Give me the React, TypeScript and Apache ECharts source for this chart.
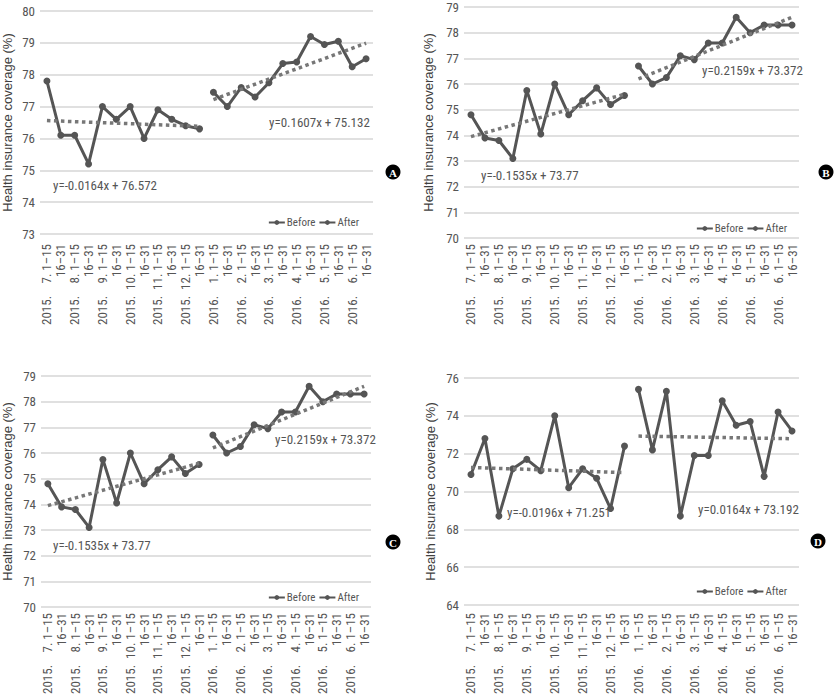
import React, { useEffect, useRef } from "react";
import * as echarts from "echarts";

// ---- data ----
const years = [2015, 2015, 2015, 2015, 2015, 2015, 2016, 2016, 2016, 2016, 2016, 2016];
const months = [7, 8, 9, 10, 11, 12, 1, 2, 3, 4, 5, 6];
const halves = ["1\u201315", "16\u201331"];
const categories: string[] = [];
months.forEach((m, i) => halves.forEach((h) => categories.push(`${years[i]}|${m}|${h}`)));

const beforeA = [77.8, 76.1, 76.1, 75.2, 77.0, 76.6, 77.0, 76.0, 76.9, 76.6, 76.4, 76.3];
const afterA = [77.45, 77.0, 77.6, 77.3, 77.75, 78.35, 78.4, 79.2, 78.95, 79.05, 78.25, 78.5];
const trendBeforeA = [76.56, 76.38];
const trendAfterA = [77.22, 78.99];

const beforeB = [74.8, 73.9, 73.8, 73.1, 75.75, 74.05, 76.0, 74.8, 75.35, 75.85, 75.2, 75.55];
const afterB = [76.7, 76.0, 76.25, 77.1, 76.95, 77.6, 77.6, 78.6, 78.0, 78.3, 78.3, 78.3];
const trendBeforeB = [73.95, 75.6];
const trendAfterB = [76.2, 78.6];

const beforeC = [74.8, 73.9, 73.8, 73.1, 75.75, 74.05, 76.0, 74.8, 75.35, 75.85, 75.2, 75.55];
const afterC = [76.7, 76.0, 76.25, 77.1, 76.95, 77.6, 77.6, 78.6, 78.0, 78.3, 78.3, 78.3];
const trendBeforeC = [73.95, 75.6];
const trendAfterC = [76.2, 78.6];

const beforeD = [70.9, 72.8, 68.7, 71.2, 71.7, 71.1, 74.0, 70.2, 71.2, 70.7, 69.1, 72.4];
const afterD = [75.4, 72.2, 75.3, 68.7, 71.9, 71.9, 74.8, 73.5, 73.7, 70.8, 74.2, 73.2];
const trendBeforeD = [71.27, 71.0];
const trendAfterD = [72.93, 72.79];

const equationsA = ["y=-0.0164x + 76.572", "y=0.1607x + 75.132"];
const equationsB = ["y=-0.1535x + 73.77", "y=0.2159x + 73.372"];
const equationsC = ["y=-0.1535x + 73.77", "y=0.2159x + 73.372"];
const equationsD = ["y=-0.0196x + 71.251", "y=0.0164x + 73.192"];

const seriesNames = ["Before", "After"];
const yTitle = "Health insurance coverage (%)";

// ---- layout ----
const NARROW = "'Liberation Sans Narrow', 'Arial Narrow', 'Roboto Condensed', sans-serif";
const SANS = "'Liberation Sans', Arial, sans-serif";
const LINE = "#555555";
const TEXT = "#555555";

const panels = [
  {
    letter: "A", before: beforeA, after: afterA, tb: trendBeforeA, ta: trendAfterA, eq: equationsA,
    yMin: 73, yMax: 80, yStep: 1,
    grid: { left: 37, top: 11, width: 336, height: 223 }, nameGap: 26, labelMargin: 10,
    legend: { right: 476, top: 212 },
    eqPos: [[53, 185], [269, 122]], badge: [393, 172],
  },
  {
    letter: "B", before: beforeB, after: afterB, tb: trendBeforeB, ta: trendAfterB, eq: equationsB,
    yMin: 70, yMax: 79, yStep: 1,
    grid: { left: 464, top: 7, width: 335, height: 231 }, nameGap: 29, labelMargin: 6,
    legend: { right: 48, top: 218 },
    eqPos: [[481, 175], [702, 70]], badge: [826, 172],
  },
  {
    letter: "C", before: beforeC, after: afterC, tb: trendBeforeC, ta: trendAfterC, eq: equationsC,
    yMin: 70, yMax: 79, yStep: 1,
    grid: { left: 38, top: 376, width: 333, height: 231 }, nameGap: 27, labelMargin: 6,
    legend: { right: 476, top: 587 },
    eqPos: [[53, 545], [275, 439]], badge: [393, 542],
  },
  {
    letter: "D", before: beforeD, after: afterD, tb: trendBeforeD, ta: trendAfterD, eq: equationsD,
    yMin: 64, yMax: 76, yStep: 2,
    grid: { left: 464, top: 378, width: 335, height: 227 }, nameGap: 27, labelMargin: 8,
    legend: { right: 48, top: 581 },
    eqPos: [[507, 512], [698, 509]], badge: [818, 541],
  },
];

function formatCategory(v: string) {
  const [y, m, h] = v.split("|");
  if (h === halves[1]) return h;
  return `${y}.  ${m.length < 2 ? "\u2007" : ""}${m}. ${h}`;
}

function buildOption() {
  const grid: any[] = [];
  const xAxis: any[] = [];
  const yAxis: any[] = [];
  const series: any[] = [];
  const legend: any[] = [];
  const graphic: any[] = [];

  panels.forEach((p, i) => {
    grid.push({ ...p.grid, containLabel: false });
    xAxis.push({
      type: "category",
      gridIndex: i,
      data: categories,
      boundaryGap: true,
      axisLine: { show: false },
      axisTick: { show: false },
      axisLabel: {
        interval: 0,
        rotate: 90,
        margin: p.labelMargin,
        fontSize: 13,
        fontFamily: NARROW,
        color: TEXT,
        formatter: formatCategory,
      },
    });
    yAxis.push({
      type: "value",
      gridIndex: i,
      min: p.yMin,
      max: p.yMax,
      interval: p.yStep,
      name: yTitle,
      nameLocation: "middle",
      nameGap: p.nameGap,
      nameTextStyle: { fontSize: 13, fontFamily: SANS, color: "#404040" },
      axisLine: { show: false },
      axisTick: { show: false },
      axisLabel: { fontSize: 13, fontFamily: NARROW, color: TEXT, margin: 5 },
      splitLine: { lineStyle: { color: "#d6d6d6", width: 1.5 } },
    });
    const common = {
      type: "line",
      xAxisIndex: i,
      yAxisIndex: i,
      symbol: "circle",
      symbolSize: 7,
      lineStyle: { width: 3, color: LINE },
      itemStyle: { color: LINE },
      z: 3,
    };
    series.push({ ...common, name: seriesNames[0], data: p.before.map((v, j) => [j, v]) });
    series.push({ ...common, name: seriesNames[1], data: p.after.map((v, j) => [j + p.before.length, v]) });
    const trend = {
      type: "line",
      xAxisIndex: i,
      yAxisIndex: i,
      symbol: "none",
      lineStyle: { width: 3.5, type: "dotted", color: "#777777" },
      z: 4,
      silent: true,
    };
    series.push({
      ...trend,
      name: `trend-before-${p.letter}`,
      data: [[0, p.tb[0]], [p.before.length - 1, p.tb[1]]],
    });
    series.push({
      ...trend,
      name: `trend-after-${p.letter}`,
      data: [[p.before.length, p.ta[0]], [p.before.length + p.after.length - 1, p.ta[1]]],
    });
    legend.push({
      data: seriesNames.map((n) => ({ name: n, itemStyle: { borderWidth: 0 }, lineStyle: { width: 2 } })),
      right: p.legend.right,
      top: p.legend.top,
      itemWidth: 16,
      itemHeight: 6,
      itemGap: 3,
      selectedMode: false,
      textStyle: { fontSize: 11, fontFamily: NARROW, color: TEXT, padding: [0, 0, 0, -3] },
    });
    p.eq.forEach((t, k) => {
      graphic.push({
        type: "text",
        x: p.eqPos[k][0],
        y: p.eqPos[k][1],
        z: 10,
        style: {
          text: t,
          fill: TEXT,
          font: `13px ${NARROW}`,
          textVerticalAlign: "middle",
          verticalAlign: "middle",
        },
      });
    });
    graphic.push({
      type: "circle",
      shape: { cx: p.badge[0], cy: p.badge[1], r: 7.5 },
      style: { fill: "#000" },
      z: 10,
    });
    graphic.push({
      type: "text",
      x: p.badge[0],
      y: p.badge[1] + 0.5,
      z: 11,
      style: {
        text: p.letter,
        fill: "#fff",
        font: `bold 11px 'Liberation Serif', 'DejaVu Serif', serif`,
        align: "center",
        textAlign: "center",
        verticalAlign: "middle",
        textVerticalAlign: "middle",
      },
    });
  });

  return {
    animation: false,
    backgroundColor: "#ffffff",
    grid,
    xAxis,
    yAxis,
    series,
    legend,
    graphic,
  };
}

export default function App() {
  const ref = useRef<HTMLDivElement>(null);
  useEffect(() => {
    document.body.style.margin = "0";
    if (!ref.current) return;
    const chart = echarts.init(ref.current, undefined, { renderer: "svg" });
    chart.setOption(buildOption() as any);
    return () => chart.dispose();
  }, []);
  return <div ref={ref} style={{ width: 840, height: 699, position: "absolute", left: 0, top: 0 }} />;
}
